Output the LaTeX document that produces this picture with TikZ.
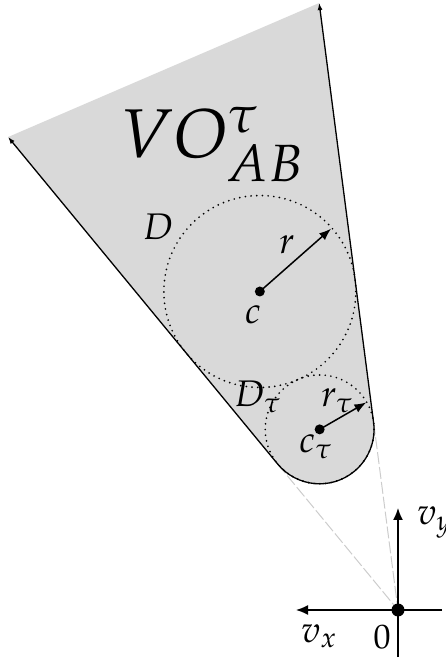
\documentclass[tikz,border=0pt]{standalone}
\usepackage{mathpazo}
\usetikzlibrary{arrows.meta}
\begin{document}
\begin{tikzpicture}[x=1pt,y=1pt,
  edge/.style={line width=1.3pt,{Latex[length=7pt,width=5pt]}-{Latex[length=7pt,width=5pt]}},
  guide/.style={gray!40,line width=1pt,dash pattern=on 12pt off 3pt},
  dotcirc/.style={line width=1.9pt,line cap=round,dash pattern=on 0pt off 5.7pt},
  radarrow/.style={line width=1.5pt,-{Latex[length=12pt,width=9pt]}},
  axisarrow/.style={line width=1.5pt,-{Latex[length=12pt,width=10pt]}},
  lbl/.style={inner sep=0pt,font=\fontsize{37}{37}\selectfont},
  ptdot/.style={fill=black}]
\useasboundingbox (-398,-53) rectangle (48,610);
% key points
\coordinate (O) at (0,0);
\coordinate (c) at (113.45:347.2);
\coordinate (ct) at (113.45:196.9);
\coordinate (lt) at (129.5:189.2);
\coordinate (rt) at (97.4:189.2);
\coordinate (ltip) at (129.5:613);
\coordinate (rtip) at (97.4:612.1);
% truncated cone
\fill[gray!30] (lt) -- (ltip) -- (rtip) -- (rt) arc[start angle=7.4,end angle=-140.5,radius=54.4] -- cycle;
% guide lines to origin
\draw[guide] (lt) -- (O);
\draw[guide] (rt) -- (O);
% circles
\draw[dotcirc] (c) circle[radius=96];
\draw[dotcirc] (ct) circle[radius=54.4];
% cone boundary
\draw[edge] (ltip) -- (lt) arc[start angle=219.5,end angle=367.4,radius=54.4] -- (rtip);
% radii
\draw[radarrow] (c) -- ++(41.4:95) coordinate (rend);
\draw[radarrow] (ct) -- ++(30:54) coordinate (rtend);
\fill[ptdot] (c) circle[radius=5];
\fill[ptdot] (ct) circle[radius=5];
% axes
\coordinate (yb) at (0,-47);
\coordinate (yt) at (0,102);
\coordinate (xr) at (44,0);
\coordinate (xl) at (-102,0);
\draw[axisarrow] (yb) -- (yt);
\draw[axisarrow] (xr) -- (xl);
\fill[ptdot] (O) circle[radius=6.5];
% labels
\node[inner sep=0pt,anchor=base west,font=\fontsize{69}{69}\selectfont] (vo) at (-278,452) {$VO^{\tau}_{AB}$};
\node[lbl] (dl) at (-240,383) {$D$};
\node[lbl] (rl) at (-111,365) {$r$};
\node[lbl] (cl) at (-145,295) {$c$};
\node[lbl,anchor=base west] (dtl) at (-164,203) {$D_\tau$};
\node[lbl,anchor=base west] (rtl) at (-77,203) {$r_\tau$};
\node[lbl,anchor=base west] (ctl) at (-99,157) {$c_\tau$};
\node[lbl,anchor=base west] (vyl) at (19,85) {$v_y$};
\node[lbl,anchor=base west] (vxl) at (-97,-32) {$v_x$};
\node[inner sep=0pt,font=\fontsize{34}{34}\selectfont] (zl) at (-16,-27) {$0$};
\end{tikzpicture}
\end{document}
